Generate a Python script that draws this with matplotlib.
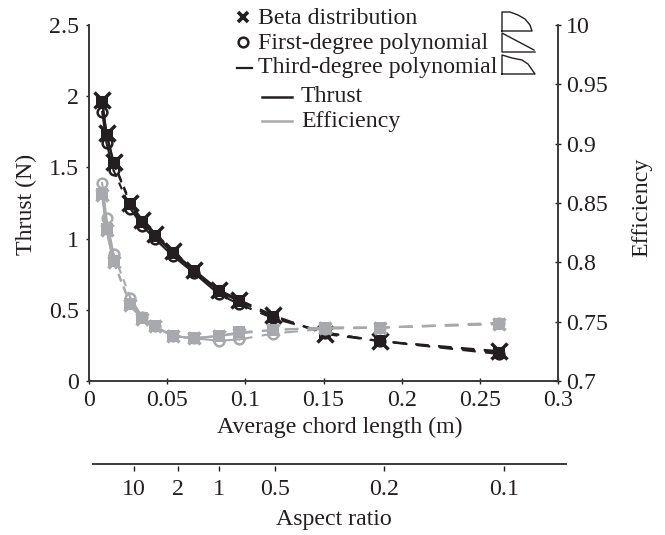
#!/usr/bin/env python3
"""Thrust and efficiency vs average chord length for three chord distributions."""
import matplotlib

matplotlib.use("Agg")
import matplotlib.pyplot as plt
import numpy as np

W, H = 665, 535
DARK = "#231f20"
GRAY = "#a7a9ac"

chord = np.array([0.0084, 0.0112, 0.0157, 0.0265, 0.034, 0.042, 0.0535,
                  0.067, 0.083, 0.096, 0.118, 0.151, 0.186, 0.262])

thrust_beta = [1.97, 1.74, 1.54, 1.25, 1.13, 1.03, 0.91, 0.78, 0.64, 0.57, 0.46, 0.33, 0.28, 0.21]
thrust_first = [1.89, 1.67, 1.48, 1.21, 1.09, 1.00, 0.88, 0.76, 0.61, 0.54, 0.44, 0.34, 0.28, 0.19]
thrust_third = [1.96, 1.73, 1.53, 1.24, 1.12, 1.02, 0.90, 0.77, 0.63, 0.56, 0.45, 0.34, 0.28, 0.20]

eff_beta = [0.857, 0.827, 0.800, 0.764, 0.752, 0.746, 0.738, 0.736, 0.738, 0.740, 0.743, 0.745, 0.745, 0.748]
eff_first = [0.867, 0.837, 0.807, 0.770, 0.754, 0.746, 0.738, 0.736, 0.734, 0.735, 0.740, 0.744, 0.745, 0.749]
eff_third = [0.858, 0.828, 0.801, 0.765, 0.753, 0.746, 0.738, 0.736, 0.738, 0.741, 0.743, 0.745, 0.745, 0.748]

x_ticks = [0, 0.05, 0.1, 0.15, 0.2, 0.25, 0.3]
x_labels = ["0", "0.05", "0.1", "0.15", "0.2", "0.25", "0.3"]
left_ticks = [0, 0.5, 1, 1.5, 2, 2.5]
left_labels = ["0", "0.5", "1", "1.5", "2", "2.5"]
right_ticks = [0.7, 0.75, 0.8, 0.85, 0.9, 0.95, 1.0]
right_labels = ["0.7", "0.75", "0.8", "0.85", "0.9", "0.95", "10"]
aspect_pos = [0.029, 0.0575, 0.0838, 0.1195, 0.189, 0.266]
aspect_labels = ["10", "2", "1", "0.5", "0.2", "0.1"]

# little planform sketches next to the legend, pixel outlines
beta_shape_x = [502, 502, 510, 518, 525, 530, 532, 502]
beta_shape_y = [31, 12, 12, 15, 19, 25, 31, 31]
first_shape_x = [534, 502, 502, 535]
first_shape_y = [50, 33, 52, 52]
third_shape_x = [502, 502, 512, 522, 528, 535, 502]
third_shape_y = [74, 55, 58, 60, 64, 74, 74]

plt.rcParams["font.family"] = ["Liberation Serif", "DejaVu Serif"]
plt.rcParams["font.size"] = 17.2
plt.rcParams["text.color"] = DARK
plt.rcParams["axes.edgecolor"] = "#3a3839"
plt.rcParams["xtick.color"] = DARK
plt.rcParams["ytick.color"] = DARK


def fx(px):
    return px / W


def fy(px):
    return 1 - px / H


def draw(ax, y, marker, color, **kw):
    """Solid at both ends of the fine range, one broken span, dashed past chord 0.1."""
    y = np.array(y)
    n = 10
    ax.plot(chord[:3], y[:3], color=color, lw=1.5, zorder=3)
    ax.plot(chord[2:4], y[2:4], color=color, lw=1.5, dashes=(3.5, 3), zorder=3)
    ax.plot(chord[3:n], y[3:n], color=color, lw=1.5, zorder=3)
    ax.plot(chord[n - 1:], y[n - 1:], color=color, lw=1.5, dashes=(6.5, 4.5), zorder=3)
    ax.plot(chord, y, ls="none", marker=marker, color=color, zorder=4, **kw)


fig = plt.figure(figsize=(W / 100, H / 100), dpi=100)
ax = fig.add_axes([fx(89), fy(381), fx(558) - fx(89), fy(25) - fy(381)])
ax2 = ax.twinx()

ax.set_xlim(0, 0.3)
ax.set_ylim(0, 2.5)
ax2.set_ylim(0.7, 1.0)

draw(ax, thrust_first, "o", DARK, ms=7, mfc="none", mew=1.8)
draw(ax, thrust_beta, "x", DARK, ms=11, mew=2.5)
draw(ax, thrust_third, "s", DARK, ms=8.5, mew=0)
draw(ax2, eff_first, "o", GRAY, ms=7, mfc="none", mew=1.8)
draw(ax2, eff_beta, "x", GRAY, ms=9, mew=2.5)
draw(ax2, eff_third, "s", GRAY, ms=8.5, mew=0)

ax.spines["top"].set_visible(False)
ax2.spines["top"].set_visible(False)
ax.spines["right"].set_visible(False)
ax2.spines["left"].set_visible(False)
ax2.spines["bottom"].set_visible(False)
for s in ["left", "bottom"]:
    ax.spines[s].set_linewidth(1.4)
ax2.spines["right"].set_linewidth(1.4)

ax.set_xticks(x_ticks, x_labels)
ax.set_yticks(left_ticks, left_labels)
ax2.set_yticks(right_ticks, right_labels)
ax.tick_params(axis="x", direction="inout", length=5, width=1, pad=4)
ax.tick_params(axis="y", direction="out", length=2.5, width=1, pad=5)
ax2.tick_params(axis="y", direction="inout", length=4, width=1, pad=4)
ax2.yaxis.get_major_ticks()[-1].tick2line.set_color(GRAY)

# aspect ratio scale below the main axis, its ticks sit clear of the rule
ax3 = fig.add_axes([fx(93), fy(466), fx(566) - fx(93), 0.001])
ax3.set_xlim(0.003, 0.3055)
ax3.set_yticks([])
for s in ax3.spines.values():
    s.set_visible(False)
ax3.patch.set_visible(False)
ax3.set_xticks(aspect_pos, aspect_labels)
ax3.tick_params(axis="x", direction="out", length=3.6, width=1, pad=5.5)

fig.text(fx(340), fy(427), "Average chord length (m)", ha="center", va="center")
fig.text(fx(334), fy(519), "Aspect ratio", ha="center", va="center")
fig.text(fx(26), fy(204), "Thrust (N)", rotation=90, ha="center", va="center")
fig.text(fx(642), fy(207), "Efficiency", rotation=90, ha="center", va="center")

# hand placed legend
fig.text(fx(258), fy(18), "Beta distribution", va="center")
fig.text(fx(258), fy(43), "First-degree polynomial", va="center")
fig.text(fx(258), fy(68), "Third-degree polynomial", va="center")
fig.text(fx(301), fy(97), "Thrust", va="center")
fig.text(fx(301), fy(121), "Efficiency", va="center")

leg = fig.add_axes([0, 0, 1, 1])
leg.set_xlim(0, W)
leg.set_ylim(H, 0)
leg.axis("off")
leg.plot([93, 566], [463.5, 463.5], color="#3a3839", lw=1.4)
leg.plot([243], [17], marker="x", color=DARK, ms=7.5, mew=2.6)
leg.plot([243], [42], marker="o", color=DARK, mfc="none", ms=7, mew=1.8)
leg.plot([237, 252], [68, 68], color=DARK, lw=1.6)
leg.plot([262, 292], [96.5, 96.5], color=DARK, lw=1.8)
leg.plot([262, 292], [120.5, 120.5], color=GRAY, lw=1.8)
leg.plot(beta_shape_x, beta_shape_y, color=DARK, lw=1)
leg.plot(first_shape_x, first_shape_y, color=DARK, lw=1)
leg.plot(third_shape_x, third_shape_y, color=DARK, lw=1)

fig.savefig("out.png", dpi=100)
